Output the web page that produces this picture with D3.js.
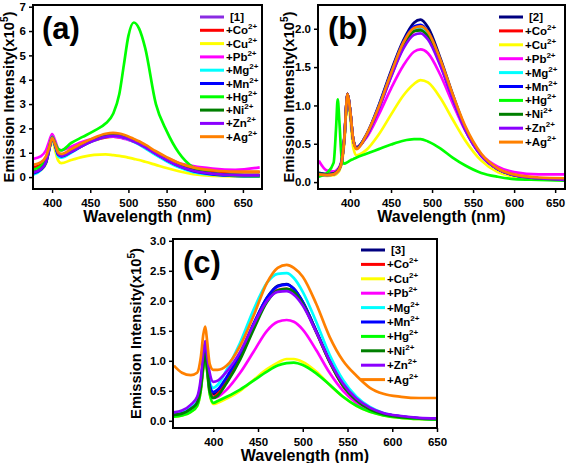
<!DOCTYPE html>
<html><head><meta charset="utf-8">
<script src="https://cdn.jsdelivr.net/npm/d3@7"></script>
<style>body{margin:0;background:#fff}svg{display:block;font-family:"Liberation Sans",Arial,sans-serif;font-weight:bold}</style>
</head><body><svg id="c" width="567" height="463"></svg>
<script>
// ---------- DATA ----------
const seriesNames = ["base","Co","Cu","Pb","Mg","Mn","Hg","Ni","Zn","Ag"];
const ionLabels = ["Co","Cu","Pb","Mg","Mn","Hg","Ni","Zn","Ag"];
const colorsA = ["#8a2be2","#ff0000","#ffff00","#ff00ff","#00ffff","#0000ff","#00ff00","#007f00","#8b00ff","#ff8000"];
const colorsBC = ["#000080","#ff0000","#ffff00","#ff00ff","#00ffff","#0000ff","#00ff00","#007f00","#8b00ff","#ff8000"];

const ticksA_x = [400,450,500,550,600,650];
const ticksA_y = [0,1,2,3,4,5,6,7];
const ticksB_x = [400,450,500,550,600,650];
const ticksB_y = [0.0,0.5,1.0,1.5,2.0];
const ticksC_x = [400,450,500,550,600,650];
const ticksC_y = [0.0,0.5,1.0,1.5,2.0,2.5,3.0];

// Panel (a)
const waveA = [375,385,392,396,400,404,408,412,425,440,455,470,480,488,494,500,507,514,522,536,550,566,585,610,640,672];
const a_base = [0.15,0.3,0.6,1.1,1.62,1.3,0.95,0.85,1.05,1.3,1.52,1.67,1.7,1.68,1.63,1.57,1.47,1.37,1.22,0.95,0.7,0.45,0.25,0.12,0.06,0.05];
const a_Co = [0.4,0.5,0.75,1.15,1.6,1.35,1.0,0.92,1.1,1.32,1.5,1.63,1.66,1.64,1.6,1.55,1.46,1.37,1.24,0.99,0.76,0.53,0.35,0.25,0.2,0.2];
const a_Cu = [0.15,0.28,0.55,1.05,1.55,1.1,0.68,0.57,0.7,0.83,0.91,0.93,0.9,0.87,0.84,0.8,0.75,0.7,0.63,0.5,0.37,0.24,0.12,0.05,0.03,0.03];
const a_Pb = [0.75,0.85,1.1,1.45,1.77,1.5,1.17,1.1,1.25,1.45,1.58,1.66,1.66,1.63,1.58,1.53,1.45,1.37,1.25,1.02,0.8,0.58,0.45,0.35,0.3,0.4];
const a_Mg = [0.1,0.28,0.6,1.1,1.6,1.25,0.85,0.8,1.0,1.28,1.5,1.66,1.7,1.67,1.62,1.55,1.45,1.34,1.18,0.9,0.65,0.4,0.2,0.1,0.05,0.04];
const a_Mn = [0.15,0.3,0.6,1.1,1.6,1.3,0.92,0.85,1.03,1.3,1.53,1.69,1.73,1.71,1.66,1.6,1.5,1.4,1.25,0.96,0.7,0.45,0.24,0.11,0.05,0.04];
const a_Hg = [0.3,0.45,0.75,1.2,1.65,1.4,1.15,1.1,1.4,1.65,1.9,2.2,2.6,3.4,4.6,5.8,6.35,6.1,5.3,3.0,1.9,1.0,0.4,0.15,0.06,0.04];
const a_Ni = [0.2,0.33,0.62,1.12,1.6,1.32,0.95,0.88,1.05,1.3,1.52,1.67,1.71,1.69,1.64,1.58,1.48,1.38,1.24,0.97,0.72,0.48,0.28,0.15,0.09,0.08];
const a_Zn = [0.18,0.32,0.62,1.12,1.62,1.32,0.95,0.87,1.04,1.29,1.5,1.65,1.69,1.67,1.62,1.56,1.46,1.36,1.22,0.95,0.7,0.46,0.26,0.14,0.08,0.07];
const a_Ag = [0.5,0.6,0.85,1.2,1.6,1.35,1.02,0.95,1.15,1.4,1.62,1.78,1.82,1.79,1.74,1.67,1.57,1.47,1.33,1.06,0.82,0.58,0.4,0.28,0.22,0.22];

// Panel (b)
const waveB = [362,372,380,383,385,387,390,393,397,400,404,408,420,435,450,465,478,486,495,510,525,540,560,580,600,630,662];
const b_base = [0.12,0.1,0.12,0.13,0.15,0.18,0.28,0.55,1.15,0.95,0.55,0.45,0.62,1.0,1.45,1.85,2.08,2.12,2.02,1.62,1.15,0.72,0.35,0.17,0.09,0.05,0.03];
const b_Co = [0.1,0.09,0.1,0.12,0.14,0.17,0.27,0.55,1.15,0.95,0.55,0.45,0.6,0.96,1.38,1.76,1.97,2.0,1.92,1.55,1.1,0.7,0.35,0.17,0.09,0.05,0.04];
const b_Cu = [0.1,0.08,0.09,0.1,0.12,0.15,0.25,0.5,1.1,0.85,0.45,0.35,0.42,0.62,0.88,1.13,1.28,1.33,1.3,1.1,0.82,0.55,0.28,0.13,0.07,0.04,0.03];
const b_Pb = [0.28,0.15,0.14,0.15,0.17,0.2,0.3,0.58,1.15,0.95,0.55,0.46,0.58,0.88,1.22,1.52,1.7,1.73,1.68,1.4,1.03,0.68,0.36,0.2,0.13,0.1,0.1];
const b_Mg = [0.1,0.09,0.1,0.12,0.14,0.17,0.27,0.55,1.15,0.95,0.55,0.45,0.61,0.98,1.41,1.8,2.0,2.02,1.93,1.56,1.11,0.7,0.35,0.17,0.09,0.05,0.03];
const b_Mn = [0.11,0.1,0.11,0.13,0.15,0.18,0.28,0.56,1.15,0.95,0.55,0.45,0.62,0.99,1.43,1.83,2.03,2.05,1.96,1.58,1.12,0.71,0.35,0.17,0.09,0.05,0.03];
const b_Hg = [0.07,0.12,0.25,0.7,1.08,0.8,0.3,0.24,0.26,0.28,0.3,0.32,0.37,0.43,0.49,0.54,0.56,0.56,0.53,0.44,0.32,0.22,0.12,0.07,0.04,0.03,0.02];
const b_Ni = [0.11,0.1,0.11,0.13,0.15,0.18,0.28,0.56,1.15,0.95,0.55,0.45,0.6,0.97,1.4,1.78,1.97,1.98,1.9,1.54,1.1,0.7,0.35,0.17,0.09,0.05,0.03];
const b_Zn = [0.1,0.09,0.1,0.12,0.14,0.17,0.27,0.55,1.15,0.95,0.55,0.44,0.6,0.95,1.37,1.74,1.92,1.94,1.86,1.52,1.09,0.69,0.34,0.17,0.09,0.05,0.03];
const b_Ag = [0.1,0.09,0.1,0.12,0.14,0.17,0.27,0.55,1.15,0.95,0.55,0.43,0.62,0.98,1.42,1.82,2.01,2.03,1.96,1.6,1.15,0.74,0.37,0.18,0.1,0.06,0.05];

// Panel (c)
const waveC = [356,365,375,382,386,389,391,393,396,400,405,415,430,445,460,472,482,490,500,515,530,545,560,575,590,610,630,650];
const c_base = [0.1,0.12,0.2,0.3,0.6,1.05,1.25,1.0,0.6,0.45,0.5,0.7,1.1,1.6,2.05,2.25,2.28,2.2,1.98,1.5,1.0,0.6,0.35,0.2,0.12,0.07,0.04,0.03];
const c_Co = [0.1,0.12,0.2,0.3,0.55,0.95,1.15,0.9,0.55,0.4,0.45,0.65,1.05,1.55,2.0,2.18,2.2,2.15,1.95,1.48,0.98,0.58,0.34,0.19,0.11,0.06,0.04,0.03];
const c_Cu = [0.07,0.09,0.15,0.25,0.5,0.9,1.1,0.85,0.45,0.28,0.3,0.37,0.5,0.68,0.86,0.97,1.03,1.03,0.98,0.82,0.6,0.4,0.25,0.15,0.09,0.05,0.03,0.02];
const c_Pb = [0.1,0.12,0.2,0.3,0.55,0.95,1.15,0.9,0.5,0.38,0.4,0.52,0.8,1.15,1.5,1.65,1.68,1.65,1.52,1.18,0.8,0.5,0.3,0.17,0.1,0.06,0.04,0.03];
const c_Mg = [0.12,0.14,0.22,0.32,0.6,1.0,1.2,0.95,0.65,0.55,0.6,0.85,1.3,1.85,2.3,2.45,2.46,2.38,2.15,1.65,1.1,0.68,0.4,0.23,0.13,0.07,0.04,0.03];
const c_Mn = [0.1,0.12,0.2,0.3,0.6,1.05,1.25,1.0,0.6,0.48,0.52,0.73,1.12,1.62,2.05,2.24,2.27,2.2,1.98,1.5,1.0,0.6,0.35,0.2,0.12,0.07,0.04,0.03];
const c_Hg = [0.07,0.09,0.15,0.25,0.5,0.9,1.1,0.85,0.45,0.3,0.33,0.4,0.52,0.67,0.82,0.92,0.96,0.97,0.93,0.79,0.6,0.4,0.25,0.15,0.09,0.05,0.03,0.02];
const c_Ni = [0.1,0.12,0.2,0.3,0.55,0.95,1.12,0.9,0.5,0.38,0.42,0.63,1.02,1.52,1.98,2.17,2.2,2.15,1.95,1.48,0.98,0.58,0.34,0.19,0.11,0.06,0.04,0.03];
const c_Zn = [0.14,0.17,0.27,0.4,0.7,1.15,1.33,1.1,0.8,0.65,0.67,0.82,1.15,1.6,2.0,2.15,2.16,2.1,1.92,1.48,1.0,0.62,0.37,0.22,0.13,0.08,0.05,0.04];
const c_Ag = [0.92,0.8,0.76,0.8,1.05,1.45,1.57,1.35,0.95,0.85,0.85,0.92,1.25,1.75,2.3,2.55,2.6,2.55,2.4,1.95,1.4,1.0,0.75,0.55,0.45,0.4,0.38,0.38];

// ---------- DRAW ----------
const svg = d3.select("#c");

function panel(cfg){
  const g = svg.append("g");
  const x = d3.scaleLinear().domain(cfg.xd).range([cfg.l, cfg.r]);
  const y = d3.scaleLinear().domain(cfg.yd).range([cfg.b, cfg.t]);
  const clipId = "clip"+cfg.key;
  svg.append("clipPath").attr("id",clipId).append("rect")
    .attr("x",cfg.l).attr("y",cfg.t).attr("width",cfg.r-cfg.l).attr("height",cfg.b-cfg.t);
  const line = d3.line().x((d,i)=>x(cfg.wave[i])).y(d=>y(d)).curve(d3.curveMonotoneX);
  const lg = g.append("g").attr("clip-path","url(#"+clipId+")");
  cfg.series.forEach((s,i)=>{
    lg.append("path").attr("d",line(s)).attr("fill","none")
      .attr("stroke",cfg.colors[i]).attr("stroke-width",2.7).attr("stroke-linejoin","round");
  });
  const xa = g.append("g").attr("transform",`translate(0,${cfg.b})`)
    .call(d3.axisBottom(x).tickValues(cfg.xt).tickSize(4).tickFormat(d3.format("d")));
  const ya = g.append("g").attr("transform",`translate(${cfg.l},0)`)
    .call(d3.axisLeft(y).tickValues(cfg.yt).tickSize(4).tickFormat(cfg.yf));
  [xa,ya].forEach(a=>{
    a.select(".domain").remove();
    a.selectAll("line").attr("stroke","#000").attr("stroke-width",1.5);
    a.selectAll("text").attr("font-family","Liberation Sans, Arial, sans-serif")
      .attr("font-weight","bold").attr("font-size",11.5).attr("fill","#000");
  });
  xa.selectAll("text").attr("dy","0.95em");
  g.append("rect").attr("x",cfg.l).attr("y",cfg.t).attr("width",cfg.r-cfg.l).attr("height",cfg.b-cfg.t)
    .attr("fill","none").attr("stroke","#000").attr("stroke-width",2);
  g.append("text").attr("x",(cfg.l+cfg.r)/2).attr("y",cfg.b+33).attr("text-anchor","middle")
    .attr("font-size",16).text("Wavelength (nm)");
  const yt = g.append("text").attr("transform",`translate(${cfg.ytx},${(cfg.t+cfg.b)/2}) rotate(-90)`)
    .attr("text-anchor","middle").attr("font-size",14.8);
  yt.append("tspan").text("Emission Intensity(x10");
  yt.append("tspan").attr("font-size",10).attr("dy",-6).text("5");
  yt.append("tspan").attr("dy",6).text(")");
  g.append("text").attr("x",cfg.l+cfg.pl).attr("y",cfg.t+34).attr("font-size",31).text(cfg.tag);
  cfg.colors.forEach((c,i)=>{
    const yy = cfg.ly + i*cfg.ldy;
    g.append("line").attr("x1",cfg.lx).attr("x2",cfg.lx+24).attr("y1",yy).attr("y2",yy)
      .attr("stroke",c).attr("stroke-width",3);
    const t = g.append("text").attr("x",cfg.lx+26).attr("y",yy+4).attr("font-size",11.5);
    if(i===0){ t.attr("x",cfg.lx+30).text(cfg.name); }
    else {
      t.append("tspan").text("+"+ionLabels[i-1]);
      t.append("tspan").attr("font-size",8).attr("dy",-5).text("2+");
    }
  });
}

panel({key:"a", tag:"(a)", name:"[1]", wave:waveA, xd:[375,675], yd:[-0.49,7.07], l:33, r:262, t:5, b:189,
  xt:ticksA_x, yt:ticksA_y, yf:d3.format("d"), ytx:14, pl:9,
  series:[a_base,a_Co,a_Cu,a_Pb,a_Mg,a_Mn,a_Hg,a_Ni,a_Zn,a_Ag], colors:colorsA,
  lx:200, ly:17, ldy:13.3});
panel({key:"b", tag:"(b)", name:"[2]", wave:waveB, xd:[361,662], yd:[-0.09,2.31], l:318, r:565, t:5, b:189,
  xt:ticksB_x, yt:ticksB_y, yf:d3.format(".1f"), ytx:294, pl:10,
  series:[b_base,b_Co,b_Cu,b_Pb,b_Mg,b_Mn,b_Hg,b_Ni,b_Zn,b_Ag], colors:colorsBC,
  lx:499, ly:17, ldy:13.9});
panel({key:"c", tag:"(c)", name:"[3]", wave:waveC, xd:[355,650], yd:[-0.12,3.03], l:173, r:437, t:239, b:428,
  xt:ticksC_x, yt:ticksC_y, yf:d3.format(".1f"), ytx:141, pl:10,
  series:[c_base,c_Co,c_Cu,c_Pb,c_Mg,c_Mn,c_Hg,c_Ni,c_Zn,c_Ag], colors:colorsBC,
  lx:361, ly:250, ldy:14.4});
</script></body></html>
